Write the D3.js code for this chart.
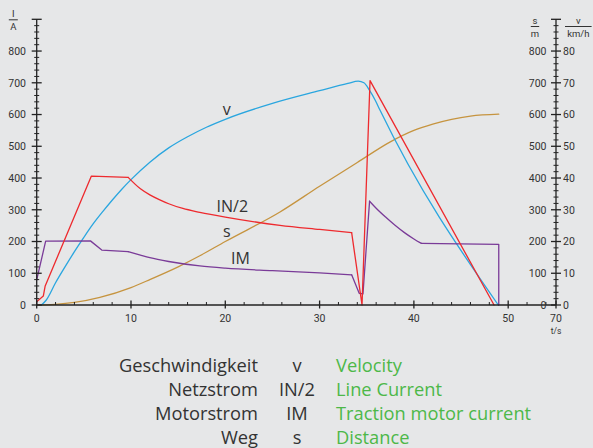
<!DOCTYPE html>
<html lang="en">
<head>
<meta charset="UTF-8">
<title>Anfahrt</title>
<style>
  body { margin: 0; background: #e6e7e8; }
  svg { display: block; font-family: 'Roboto', 'Noto Sans', sans-serif; }
  .tick-label { font-size: 10.5px; fill: #333; }
  .unit { font-size: 9.5px; fill: #333; }
  .curve-label { font-family: 'Open Sans', sans-serif; font-size: 16px; fill: #333; }
  .legend { font-family: 'Open Sans', sans-serif; font-size: 18.3px; }
</style>
</head>
<body>
<svg id="chart" width="593" height="448"></svg>
<script src="https://cdn.jsdelivr.net/npm/d3@7"></script>
<script>
  // time axis ticks (the last label jumps from 54 to 70, a broken axis)
  var xMajor = [0, 10, 20, 30, 40, 50, 70];
  var xMinor = [2, 4, 6, 8, 12, 14, 16, 18, 22, 24, 26, 28, 32, 34, 36, 38, 42, 44, 46, 48, 52, 54];
  var yMajor = [0, 100, 200, 300, 400, 500, 600, 700, 800];

  // Velocity v, km/h
  var vT = [0.5, 1, 2, 3, 4, 5, 6, 7, 8, 9, 10, 12, 14, 16, 18, 20, 25, 30, 33, 34.1, 34.7, 35.3, 35.9, 36.4, 48.95];
  var vVal = [0, 1.5, 7, 12, 16.8, 21.3, 25.6, 29.4, 33, 36.4, 39.5, 45, 49.5, 53, 56, 58.5, 63.5, 67.5, 69.8, 70.5, 70, 67.6, 64.5, 61.4, 0];

  // Line current IN/2, A  (three pieces: start-up, smooth decay, braking)
  var inT1 = [0, 0.7, 0.9, 5.8, 9.7];
  var inV1 = [10, 28, 60, 406, 402];
  var inT2 = [9.7, 11, 12, 13, 14, 15.5, 17.3, 20, 25.8, 30, 33.4];
  var inV2 = [402, 366, 347, 332, 319, 304, 292, 277, 251, 238, 228];
  var inT3 = [33.4, 34.5, 35.35, 48.5];
  var inV3 = [228, 0, 707, 0];

  // Traction motor current IM, A
  var imT1 = [0, 0.95, 5.7, 6.9, 9.7];
  var imV1 = [79, 201, 202, 173, 168];
  var imT2 = [9.7, 11, 12, 14, 17.3, 20, 25, 30, 33.4];
  var imV2 = [168, 157, 149, 137, 123, 116, 108, 101, 95];
  var imT3 = [33.4, 34.2, 34.6, 35.3];
  var imV3 = [95, 37, 35, 327];
  var imT4 = [35.3, 36, 37, 38, 39, 40, 40.8];
  var imV4 = [327, 305, 277, 251, 228, 208, 194];
  var imT5 = [40.8, 49, 49];
  var imV5 = [194, 191, 0];

  // Distance s, m
  var sT = [0, 1, 2, 4, 6.7, 10, 12, 15, 17.3, 20, 25.8, 30, 34, 37.5, 40, 42, 44, 46, 49];
  var sVal = [0, 0.5, 2, 8, 24, 55, 80, 120, 155, 200, 293, 374, 449, 514, 550, 570, 585, 595, 601];

  var legendDe = ["Geschwindigkeit", "Netzstrom", "Motorstrom", "Weg"];
  var legendSym = ["v", "IN/2", "IM", "s"];
  var legendEn = ["Velocity", "Line Current", "Traction motor current", "Distance"];

  var COL_V = "#2aa6df", COL_IN = "#ee2a2e", COL_IM = "#7a3b98", COL_S = "#c6943f";
  var GREEN = "#4db848", AXIS = "#222";

  var svg = d3.select("#chart");

  var x = d3.scaleLinear().domain([0, 54, 70]).range([36.7, 545.9, 556]);
  var y = d3.scaleLinear().domain([0, 900]).range([305, 19.3]);
  // right axis: v in km/h shares the same height (80 km/h == 800)
  var yv = d3.scaleLinear().domain([0, 90]).range([305, 19.3]);

  function zip(ts, vs) { return ts.map(function (t, i) { return [t, vs[i]]; }); }

  var lineA = d3.line().x(function (d) { return x(d[0]); }).y(function (d) { return y(d[1]); });
  var smoothA = d3.line().x(function (d) { return x(d[0]); }).y(function (d) { return y(d[1]); })
    .curve(d3.curveMonotoneX);
  var lineV = d3.line().x(function (d) { return x(d[0]); }).y(function (d) { return yv(d[1]); })
    .curve(d3.curveMonotoneX);

  function draw(d, col) {
    svg.append("path").attr("d", d)
      .attr("fill", "none").attr("stroke", col).attr("stroke-width", 1.3)
      .attr("stroke-linejoin", "round").attr("stroke-linecap", "round");
  }

  // curves
  draw(smoothA(zip(sT, sVal)), COL_S);
  draw(lineV(zip(vT, vVal)), COL_V);
  draw(lineA(zip(imT1, imV1)), COL_IM);
  draw(smoothA(zip(imT2, imV2)), COL_IM);
  draw(lineA(zip(imT3, imV3)), COL_IM);
  draw(smoothA(zip(imT4, imV4)), COL_IM);
  draw(lineA(zip(imT5, imV5)), COL_IM);
  draw(lineA(zip(inT1, inV1)), COL_IN);
  draw(smoothA(zip(inT2, inV2)), COL_IN);
  draw(lineA(zip(inT3, inV3)), COL_IN);

  // axes
  var ax = svg.append("g").attr("stroke", AXIS).attr("stroke-width", 1.3);
  var x0 = x(0), x1 = x(70), y0 = y(0), yTop = y(900);

  ax.append("line").attr("x1", x0).attr("x2", x1).attr("y1", y0).attr("y2", y0);
  ax.append("line").attr("x1", x0).attr("x2", x0).attr("y1", y0).attr("y2", yTop);
  ax.append("line").attr("x1", x1).attr("x2", x1).attr("y1", y0).attr("y2", yTop);

  // y ticks on both vertical axes
  var yMinor = d3.range(0, 901, 20).filter(function (d) { return d % 100 !== 0; });
  [x0, x1].forEach(function (ax0) {
    ax.selectAll(null).data(yMajor.concat([900])).enter().append("line")
      .attr("x1", ax0 - 5).attr("x2", ax0 + 5)
      .attr("y1", function (d) { return y(d); }).attr("y2", function (d) { return y(d); });
    ax.selectAll(null).data(yMinor).enter().append("line")
      .attr("stroke-width", 1)
      .attr("x1", ax0 - 2.5).attr("x2", ax0 + 2.5)
      .attr("y1", function (d) { return y(d); }).attr("y2", function (d) { return y(d); });
  });

  // x ticks
  ax.selectAll(null).data(xMajor).enter().append("line")
    .attr("x1", function (d) { return x(d); }).attr("x2", function (d) { return x(d); })
    .attr("y1", y0 - 4.5).attr("y2", y0 + 3.5);
  ax.selectAll(null).data(xMinor).enter().append("line")
    .attr("stroke-width", 1)
    .attr("x1", function (d) { return x(d); }).attr("x2", function (d) { return x(d); })
    .attr("y1", y0 - 3).attr("y2", y0);

  // tick labels
  svg.selectAll(null).data(yMajor).enter().append("text").attr("class", "tick-label")
    .attr("x", 26).attr("y", function (d) { return y(d) + 3.8; })
    .attr("text-anchor", "end").text(function (d) { return d; });
  svg.selectAll(null).data(yMajor).enter().append("text").attr("class", "tick-label")
    .attr("x", 546.5).attr("y", function (d) { return y(d) + 3.8; })
    .attr("text-anchor", "end").text(function (d) { return d; });
  svg.selectAll(null).data(yMajor).enter().append("text").attr("class", "tick-label")
    .attr("x", 563).attr("y", function (d) { return yv(d / 10) + 3.8; })
    .attr("text-anchor", "start").text(function (d) { return d / 10; });
  svg.selectAll(null).data(xMajor).enter().append("text").attr("class", "tick-label")
    .attr("x", function (d) { return x(d); }).attr("y", 321.5)
    .attr("text-anchor", "middle").text(function (d) { return d; });
  svg.append("text").attr("class", "tick-label").style("font-size", "8.5px")
    .attr("x", x1).attr("y", 334).attr("text-anchor", "middle").text("t/s");

  // unit fractions
  function unit(cx, top, bottom, half, ly) {
    svg.append("text").attr("class", "unit").attr("x", cx).attr("y", ly - 2.6)
      .attr("text-anchor", "middle").text(top);
    svg.append("line").attr("x1", cx - half).attr("x2", cx + half).attr("y1", ly).attr("y2", ly)
      .attr("stroke", "#333").attr("stroke-width", 1);
    svg.append("text").attr("class", "unit").attr("x", cx).attr("y", ly + 10.5)
      .attr("text-anchor", "middle").text(bottom);
  }
  unit(13.3, "I", "A", 4.5, 19.8);
  unit(535, "s", "m", 4.2, 26.5);
  unit(578.3, "v", "km/h", 13.3, 26.5);

  // curve labels
  var curveLabels = [["v", 226.7, 115], ["IN/2", 232.3, 212.3], ["s", 226.7, 236.7], ["IM", 240.5, 264]];
  svg.selectAll(null).data(curveLabels).enter().append("text").attr("class", "curve-label")
    .attr("x", function (d) { return d[1]; }).attr("y", function (d) { return d[2]; })
    .attr("text-anchor", "middle").text(function (d) { return d[0]; });

  // legend
  var lg = svg.append("g").attr("class", "legend");
  legendDe.forEach(function (t, i) {
    var by = 371.7 + i * 24;
    lg.append("text").attr("x", 258).attr("y", by).attr("text-anchor", "end")
      .attr("fill", "#333").text(t);
    lg.append("text").attr("x", 297).attr("y", by).attr("text-anchor", "middle")
      .attr("fill", "#333").text(legendSym[i]);
    lg.append("text").attr("x", 336).attr("y", by).attr("text-anchor", "start")
      .attr("fill", GREEN).text(legendEn[i]);
  });
</script>
</body>
</html>
